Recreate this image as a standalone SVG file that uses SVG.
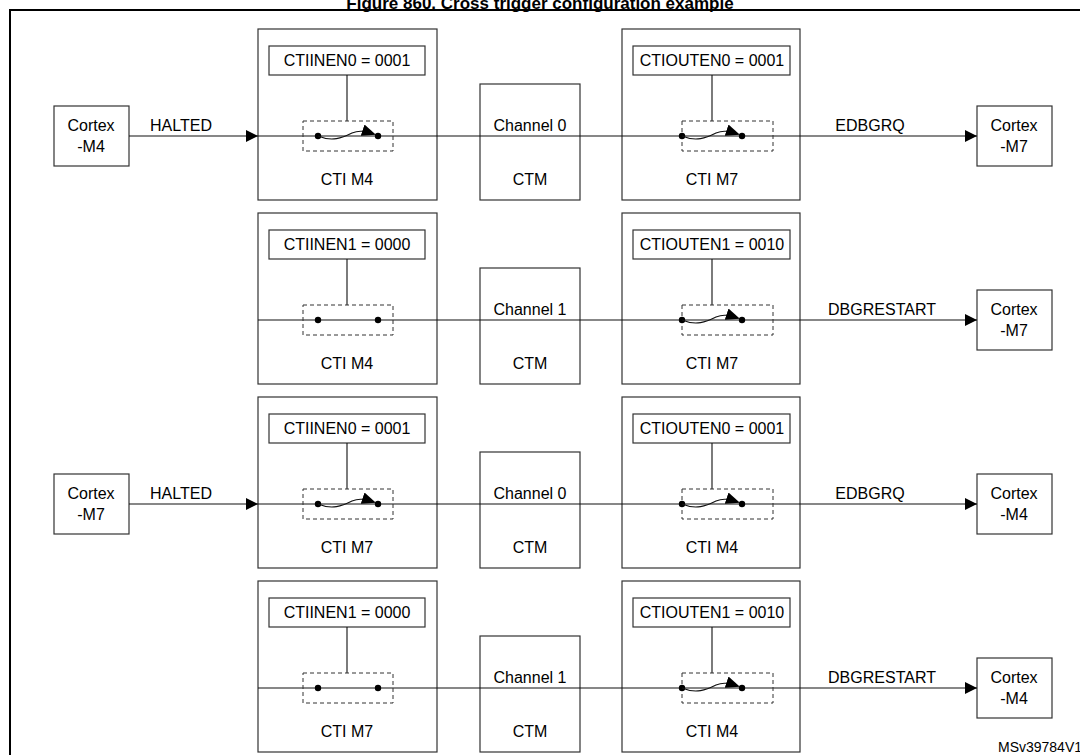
<svg xmlns="http://www.w3.org/2000/svg" width="1080" height="755" viewBox="0 0 1080 755">
<style>
text{font-family:"Liberation Sans",Arial,sans-serif;font-size:16px;fill:#000;text-anchor:middle}
.b{fill:#fff;stroke:#333;stroke-width:1.2}
.d{fill:none;stroke:#333;stroke-width:1;stroke-dasharray:4,3}
.l{stroke:#111;stroke-width:1.1;fill:none}
</style>
<defs>
<marker id="a" markerWidth="12" markerHeight="12" refX="12" refY="6" orient="auto" markerUnits="userSpaceOnUse"><path d="M0,0L12,6L0,12z" fill="#000"/></marker>
<marker id="s" markerWidth="14" markerHeight="12" refX="12" refY="6" orient="auto" markerUnits="userSpaceOnUse"><path d="M0,0L14,6L0,12z" fill="#000"/></marker>
<g id="sw"><circle cx="-29" cy="0" r="3.2" fill="#000"/><circle cx="31" cy="0" r="3.2" fill="#000"/><path class="l" d="M-29,0C-15,6 -5,2 5,-3C12,-6 18,-5 27,-2" marker-end="url(#s)"/></g>
<g id="op"><circle cx="-29" cy="0" r="3.2" fill="#000"/><circle cx="31" cy="0" r="3.2" fill="#000"/></g>
</defs>
<rect width="1080" height="755" fill="#fff"/>
<text x="540" y="9" style="font-weight:bold;font-size:17px">Figure 860. Cross trigger configuration example</text>
<rect x="10" y="10" width="1075" height="750" fill="none" stroke="#000" stroke-width="2"/>
<g id="nodes">
<g id="cm4a"><rect class="b" x="54" y="106" width="75" height="60"/><text x="91" y="131">Cortex</text><text x="91" y="152">-M4</text></g>
<g id="cm7c"><rect class="b" x="54" y="474" width="75" height="60"/><text x="91" y="499">Cortex</text><text x="91" y="520">-M7</text></g>
<g id="r1"><rect class="b" x="977" y="106" width="75" height="60"/><text x="1014" y="131">Cortex</text><text x="1014" y="152">-M7</text></g>
<g id="r2"><rect class="b" x="977" y="290" width="75" height="60"/><text x="1014" y="315">Cortex</text><text x="1014" y="336">-M7</text></g>
<g id="r3"><rect class="b" x="977" y="474" width="75" height="60"/><text x="1014" y="499">Cortex</text><text x="1014" y="520">-M4</text></g>
<g id="r4"><rect class="b" x="977" y="658" width="75" height="60"/><text x="1014" y="683">Cortex</text><text x="1014" y="704">-M4</text></g>
</g>
<g id="rows">
<g id="a1">
<rect class="b" x="258" y="29" width="179" height="171"/><rect class="b" x="480" y="84" width="100" height="116"/><rect class="b" x="622" y="29" width="178" height="171"/>
<rect class="b" x="269" y="46" width="156" height="29"/><rect class="b" x="633" y="46" width="157" height="29"/>
<path class="l" d="M347,75V121M712,75V121"/>
<path class="l" d="M129,136H258" marker-end="url(#a)"/><path class="l" d="M258,136H977" marker-end="url(#a)"/>
<rect class="d" x="303" y="121" width="90" height="30"/><rect class="d" x="682" y="121" width="91" height="30"/>
<use href="#sw" x="347" y="136"/><use href="#sw" x="711" y="136"/>
<text x="347" y="66">CTIINEN0 = 0001</text><text x="712" y="66">CTIOUTEN0 = 0001</text>
<text x="181" y="131">HALTED</text><text x="530" y="131">Channel 0</text><text x="870" y="131">EDBGRQ</text>
<text x="347" y="185">CTI M4</text><text x="530" y="185">CTM</text><text x="712" y="185">CTI M7</text>
</g>
<g id="a2" transform="translate(0,184)">
<rect class="b" x="258" y="29" width="179" height="171"/><rect class="b" x="480" y="84" width="100" height="116"/><rect class="b" x="622" y="29" width="178" height="171"/>
<rect class="b" x="269" y="46" width="156" height="29"/><rect class="b" x="633" y="46" width="157" height="29"/>
<path class="l" d="M347,75V121M712,75V121"/>
<path class="l" d="M258,136H977" marker-end="url(#a)"/>
<rect class="d" x="303" y="121" width="90" height="30"/><rect class="d" x="682" y="121" width="91" height="30"/>
<use href="#op" x="347" y="136"/><use href="#sw" x="711" y="136"/>
<text x="347" y="66">CTIINEN1 = 0000</text><text x="712" y="66">CTIOUTEN1 = 0010</text>
<text x="530" y="131">Channel 1</text><text x="882" y="131">DBGRESTART</text>
<text x="347" y="185">CTI M4</text><text x="530" y="185">CTM</text><text x="712" y="185">CTI M7</text>
</g>
<g id="a3" transform="translate(0,368)">
<rect class="b" x="258" y="29" width="179" height="171"/><rect class="b" x="480" y="84" width="100" height="116"/><rect class="b" x="622" y="29" width="178" height="171"/>
<rect class="b" x="269" y="46" width="156" height="29"/><rect class="b" x="633" y="46" width="157" height="29"/>
<path class="l" d="M347,75V121M712,75V121"/>
<path class="l" d="M129,136H258" marker-end="url(#a)"/><path class="l" d="M258,136H977" marker-end="url(#a)"/>
<rect class="d" x="303" y="121" width="90" height="30"/><rect class="d" x="682" y="121" width="91" height="30"/>
<use href="#sw" x="347" y="136"/><use href="#sw" x="711" y="136"/>
<text x="347" y="66">CTIINEN0 = 0001</text><text x="712" y="66">CTIOUTEN0 = 0001</text>
<text x="181" y="131">HALTED</text><text x="530" y="131">Channel 0</text><text x="870" y="131">EDBGRQ</text>
<text x="347" y="185">CTI M7</text><text x="530" y="185">CTM</text><text x="712" y="185">CTI M4</text>
</g>
<g id="a4" transform="translate(0,552)">
<rect class="b" x="258" y="29" width="179" height="171"/><rect class="b" x="480" y="84" width="100" height="116"/><rect class="b" x="622" y="29" width="178" height="171"/>
<rect class="b" x="269" y="46" width="156" height="29"/><rect class="b" x="633" y="46" width="157" height="29"/>
<path class="l" d="M347,75V121M712,75V121"/>
<path class="l" d="M258,136H977" marker-end="url(#a)"/>
<rect class="d" x="303" y="121" width="90" height="30"/><rect class="d" x="682" y="121" width="91" height="30"/>
<use href="#op" x="347" y="136"/><use href="#sw" x="711" y="136"/>
<text x="347" y="66">CTIINEN1 = 0000</text><text x="712" y="66">CTIOUTEN1 = 0010</text>
<text x="530" y="131">Channel 1</text><text x="882" y="131">DBGRESTART</text>
<text x="347" y="185">CTI M7</text><text x="530" y="185">CTM</text><text x="712" y="185">CTI M4</text>
</g>
</g>
<text x="1040" y="752" style="font-size:14px">MSv39784V1</text>
</svg>
